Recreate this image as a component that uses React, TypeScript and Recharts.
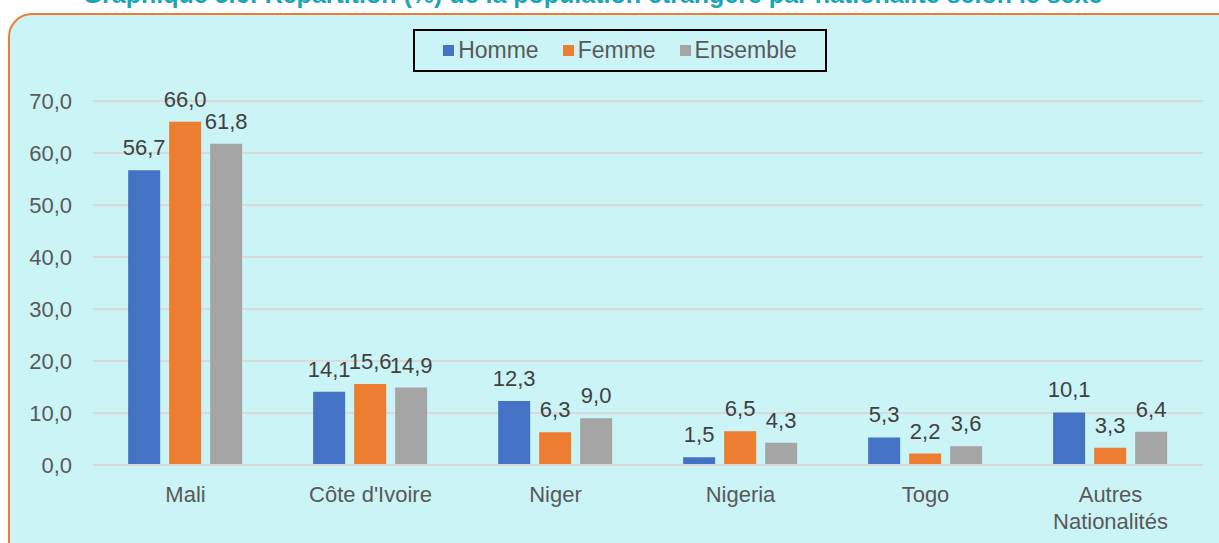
import React from "react";
import { BarChart, Bar, XAxis, YAxis, CartesianGrid, LabelList, Legend } from "recharts";

const categories = ["Mali", "Côte d'Ivoire", "Niger", "Nigeria", "Togo", "Autres Nationalités"];
const homme = [56.7, 14.1, 12.3, 1.5, 5.3, 10.1];
const femme = [66.0, 15.6, 6.3, 6.5, 2.2, 3.3];
const ensemble = [61.8, 14.9, 9.0, 4.3, 3.6, 6.4];
const yTicks = [0, 10, 20, 30, 40, 50, 60, 70];

const series = [
  { key: "homme", name: "Homme", color: "#4472C4" },
  { key: "femme", name: "Femme", color: "#ED7D31" },
  { key: "ensemble", name: "Ensemble", color: "#A5A5A5" },
];

const data = categories.map((c, i) => ({
  name: c,
  homme: homme[i],
  femme: femme[i],
  ensemble: ensemble[i],
}));

const FONT = "'Liberation Sans', Arial, sans-serif";
const fmt = (v: number) => v.toFixed(1).replace(".", ",");

// long names go on two lines, like the original
function CategoryTick(props: any) {
  const { x, y, payload } = props;
  const label = String(payload.value);
  const lines = label.length > 14 ? label.split(" ") : [label];
  return (
    <text x={x} y={y} textAnchor="middle" fill="#595959" fontSize={22} fontFamily={FONT}>
      {lines.map((l, i) => (
        <tspan key={i} x={x} dy={i === 0 ? 16 : 27}>
          {l}
        </tspan>
      ))}
    </text>
  );
}

function LegendBox() {
  return (
    <div
      style={{
        border: "2px solid #000",
        height: 43,
        boxSizing: "border-box",
        display: "flex",
        alignItems: "center",
        justifyContent: "center",
        gap: 24,
        fontFamily: FONT,
        fontSize: 23,
        color: "#595959",
      }}
    >
      {series.map((s) => (
        <span key={s.key} style={{ display: "flex", alignItems: "center" }}>
          <span style={{ width: 11, height: 11, background: s.color, marginRight: 4 }} />
          {s.name}
        </span>
      ))}
    </div>
  );
}

export default function App() {
  return (
    <div style={{ position: "absolute", left: 0, top: 0, width: 1219, height: 543, overflow: "hidden", background: "#fff" }}>
      <div
        style={{
          position: "absolute",
          left: 0,
          right: 34,
          top: -15,
          textAlign: "center",
          fontFamily: FONT,
          fontWeight: "bold",
          fontSize: 25,
          lineHeight: "19px",
          color: "#1AA5B8",
          whiteSpace: "nowrap",
        }}
      >
        Graphique 5.6: Répartition (%) de la population étrangère par nationalité selon le sexe
      </div>
      <div
        style={{
          position: "absolute",
          left: 8,
          top: 13,
          width: 1260,
          height: 580,
          border: "2px solid #ED7D31",
          borderRadius: 24,
          background: "#CBF4F6",
          boxSizing: "border-box",
        }}
      />
      <div style={{ position: "absolute", left: 0, top: 0 }}>
        <BarChart
          width={1219}
          height={543}
          data={data}
          margin={{ top: 101, right: 16, bottom: 18, left: 13 }}
          barCategoryGap="19%"
          barGap={9}
        >
          <CartesianGrid horizontal vertical={false} stroke="#D9D9D9" strokeWidth={2} />
          <XAxis
            dataKey="name"
            height={60}
            tickLine={false}
            tickSize={0}
            tickMargin={21}
            axisLine={{ stroke: "#D9D9D9", strokeWidth: 2 }}
            tick={<CategoryTick />}
            interval={0}
          />
          <YAxis
            width={80}
            domain={[0, 70]}
            ticks={yTicks}
            tickFormatter={fmt}
            axisLine={false}
            tickLine={false}
            tickMargin={15}
            tick={{ fill: "#595959", fontSize: 22, fontFamily: FONT }}
          />
          <Legend
            layout="horizontal"
            verticalAlign="middle"
            align="center"
            wrapperStyle={{ top: 29, left: 413, width: 414 }}
            content={() => <LegendBox />}
          />
          {series.map((s) => (
            <Bar key={s.key} dataKey={s.key} name={s.name} fill={s.color} isAnimationActive={false}>
              <LabelList
                dataKey={s.key}
                position="top"
                offset={15}
                formatter={(v: any) => fmt(Number(v))}
                fill="#404040"
                fontSize={22}
                fontFamily={FONT}
              />
            </Bar>
          ))}
        </BarChart>
      </div>
    </div>
  );
}
